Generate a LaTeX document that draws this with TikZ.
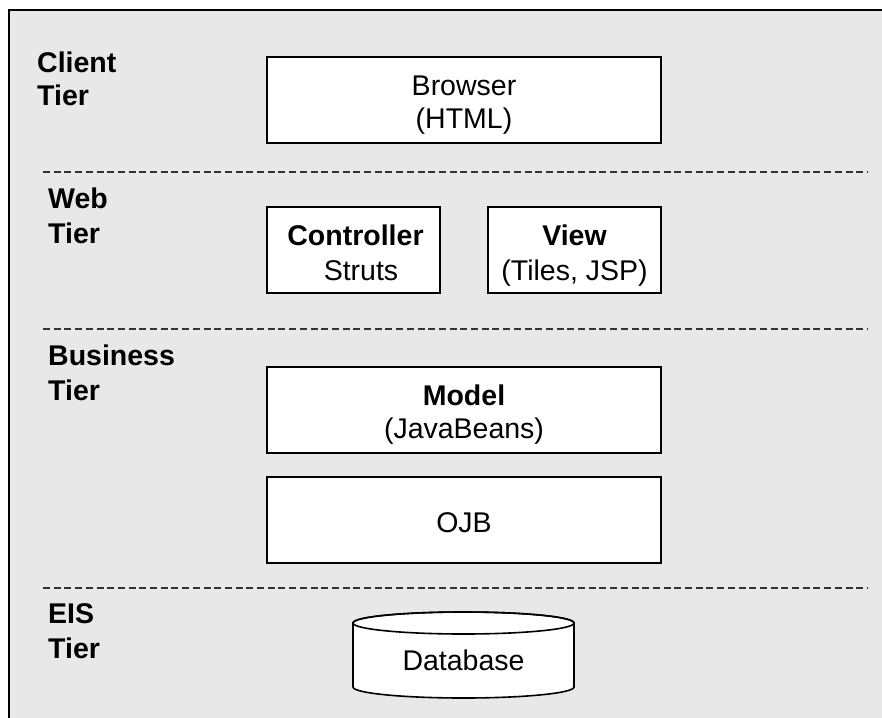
\documentclass[tikz,border=0pt]{standalone}
\usepackage{fontspec}
\setmainfont{Liberation Sans}
\begin{document}
\begin{tikzpicture}[x=1pt,y=-1pt,
  txt/.style={font=\fontsize{28.5}{33}\selectfont, inner sep=0pt, anchor=base},
  btxt/.style={txt, font=\fontsize{28.5}{33}\selectfont\bfseries},
  tier/.style={btxt, anchor=base west},
  tierbox/.style={draw=black, line width=1.6pt, fill=white, inner sep=0pt},
  sep/.style={draw=black!80, line width=1.5pt, dash pattern=on 7pt off 3.7pt}]
\useasboundingbox (0,0) rectangle (882,717);
\fill[black!9] (9,10) rectangle (895,730);
\draw[line width=1.8pt] (9,730) -- (9,10) -- (895,10);

% separators
\coordinate (s1a) at (43,172); \coordinate (s1b) at (868,172);
\coordinate (s2a) at (43,329); \coordinate (s2b) at (868,329);
\coordinate (s3a) at (43,588); \coordinate (s3b) at (868,588);
\draw[sep] (s1a) -- (s1b);
\draw[sep] (s2a) -- (s2b);
\draw[sep] (s3a) -- (s3b);

% tier labels
\node[tier] (client1) at (37,72) {Client};
\node[tier] (client2) at (37,105) {Tier};
\node[tier] (web1) at (48,208) {Web};
\node[tier] (web2) at (48,243) {Tier};
\node[tier] (bus1) at (48,365) {Business};
\node[tier] (bus2) at (48,400) {Tier};
\node[tier] (eis1) at (48,623) {EIS};
\node[tier] (eis2) at (48,658) {Tier};

% boxes
\node[tierbox, minimum width=394pt, minimum height=86pt] (browser) at (464,100) {};
\node[tierbox, minimum width=173pt, minimum height=86pt] (controller) at (353.5,250) {};
\node[tierbox, minimum width=173pt, minimum height=86pt] (view) at (574.5,250) {};
\node[tierbox, minimum width=394pt, minimum height=86pt] (model) at (464,410) {};
\node[tierbox, minimum width=394pt, minimum height=86pt] (ojb) at (464,520) {};

\node[txt] (browsert1) at (464,95) {Browser};
\node[txt] (browsert2) at (464,128) {(HTML)};
\node[btxt] (controllert1) at (355.5,245) {Controller};
\node[txt] (controllert2) at (361,280) {Struts};
\node[btxt] (viewt1) at (574.5,245) {View};
\node[txt] (viewt2) at (574.5,280) {(Tiles, JSP)};
\node[btxt] (modelt1) at (464,405) {Model};
\node[txt] (modelt2) at (464,438) {(JavaBeans)};
\node[txt] (ojbt) at (464,532) {OJB};

% database cylinder
\filldraw[fill=white, draw=black, line width=1.6pt]
  (353,623) -- (353,687) arc[start angle=180, end angle=0, x radius=110.5, y radius=11]
  -- (574,623) arc[start angle=0, end angle=-180, x radius=110.5, y radius=11] -- cycle;
\draw[line width=1.6pt] (463.5,623) ellipse [x radius=110.5, y radius=11];
\node[txt] (db) at (463.5,670) {Database};
\end{tikzpicture}
\end{document}
